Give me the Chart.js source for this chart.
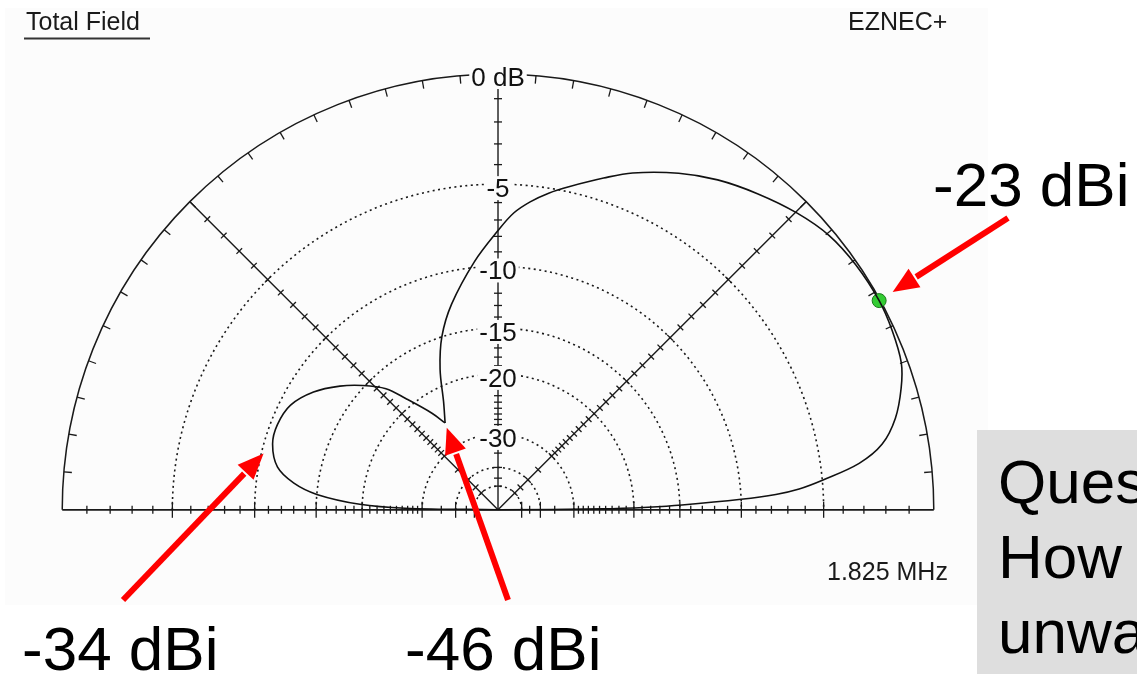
<!DOCTYPE html>
<html>
<head>
<meta charset="utf-8">
<script src="https://cdn.jsdelivr.net/npm/chart.js@4"></script>
<style>
  html, body { margin: 0; padding: 0; background: #fff; overflow: hidden; }
  body { width: 1137px; height: 674px; position: relative; font-family: "Liberation Sans", Arial, sans-serif; }
  #wrap { position: absolute; left: 0; top: 0; width: 1137px; height: 674px; }
  .note { position: absolute; font-size: 62px; line-height: 1; color: #000; white-space: nowrap; }
  #question {
    position: absolute; left: 977px; top: 430px; width: 320px; height: 260px;
    background: #dedede; box-sizing: border-box; padding: 14px 0 0 21px;
    font-size: 62px; line-height: 75px; color: #000; white-space: nowrap;
  }
</style>
</head>
<body>
<div id="wrap"><canvas id="pattern" width="1137" height="674"></canvas></div>
<div class="note" id="n0" style="left:933px; top:154px;"></div>
<div class="note" id="n1" style="left:22px; top:618px;"></div>
<div class="note" id="n2" style="left:405px; top:618px;"></div>
<div id="question">Question:<br>How to reduce<br>unwanted radiation?</div>

<script>
// elevation pattern (deg above horizon) and gain relative to max (dB)
const elevationDeg = [0, 0.5, 1, 1.5, 2.5, 3.2, 4, 5.3, 7.4, 9.8, 13.1, 16.9, 20.2, 24.7, 29,
  34.6, 39.9, 45.1, 50.9, 56.6, 62, 68.4, 72.5, 77.6, 81, 84.1, 87, 90, 95.4, 102.6, 107.8,
  112.2, 116.5, 121.1, 124.1, 129.4, 132.5, 137.1, 141.7, 147.2, 153, 158.7, 163.6, 168.9,
  172.5, 175.1, 177.7, 179, 180];
const gainDb = [-99, -24.4, -18.3, -14.8, -10.0, -7.7, -6.3, -4.96, -3.08, -1.91, -1.13, -0.58, -0.24, -0.08, 0,
  -0.03, -0.16, -0.5, -0.99, -1.51, -2.13, -3.0, -3.7, -4.55, -5.1, -5.7, -6.4, -7.47, -9.43, -12.3, -14.83,
  -17.93, -21.85, -24.85, -22.45, -18.83, -16.58, -14.76, -13.24, -11.77, -10.76, -10.47, -10.6, -11.36,
  -12.87, -15.0, -19.7, -26.5, -99];

const ringDb = [-5, -10, -15, -20, -30, -40, -50];
const ringLabels = ['-5', '-10', '-15', '-20', '-30'];
const topLabel = '0 dB';
const titleText = 'Total Field';
const programText = 'EZNEC+';
const frequencyText = '1.825 MHz';
const noteTexts = ['-23 dBi', '-34 dBi', '-46 dBi'];
const noteAngles = [29, 163.6, 121.1];

// page layout of the plot
const CX = 497, CY = 514, RPX = 442, W = 1137, H = 674;
const FONT = '"Liberation Sans", Arial, sans-serif';

// ARRL log scale used by EZNEC: 0.89 per 2 dB
const arrl = db => db <= -90 ? 0 : Math.pow(0.89, -db / 2);
const rad = d => d * Math.PI / 180;

const points = elevationDeg.map((a, i) => {
  const r = arrl(gainDb[i]);
  return { x: r * Math.cos(rad(a)), y: r * Math.sin(rad(a)) };
});
const nullIdx = elevationDeg.indexOf(121.1);
const maxIdx = gainDb.indexOf(Math.max(...gainDb));

noteTexts.forEach((t, i) => { document.getElementById('n' + i).textContent = t; });

const polarGrid = {
  id: 'polarGrid',
  beforeDraw(chart) {
    const c = chart.ctx;
    c.save();
    c.fillStyle = '#fcfcfc';
    c.fillRect(5, 8, 983, 597);
    c.restore();
  },
  beforeDatasetsDraw(chart) {
    const { ctx: c, scales: { x, y } } = chart;
    const cx = x.getPixelForValue(0), cy = y.getPixelForValue(0);
    const R = x.getPixelForValue(1) - cx;
    const at = (deg, r) => [cx + R * r * Math.cos(rad(deg)), cy - R * r * Math.sin(rad(deg))];
    c.save();
    c.strokeStyle = '#1a1a1a';

    // dotted rings
    c.lineWidth = 1.6;
    c.setLineDash([2, 3.5]);
    ringDb.forEach(d => {
      c.beginPath();
      c.arc(cx, cy, R * arrl(d), Math.PI, 2 * Math.PI);
      c.stroke();
    });
    c.setLineDash([]);

    // outer circle, baseline, vertical and diagonals
    c.lineWidth = 1.5;
    c.beginPath(); c.arc(cx, cy, R, Math.PI, 2 * Math.PI); c.stroke();
    c.lineWidth = 1.7;
    c.beginPath(); c.moveTo(cx - R, cy); c.lineTo(cx + R, cy); c.stroke();
    c.lineWidth = 1.4;
    [45, 90, 135].forEach(a => {
      const [px, py] = at(a, 1);
      c.beginPath(); c.moveTo(cx, cy); c.lineTo(px, py); c.stroke();
    });

    // angle ticks on the outer circle
    c.lineWidth = 1.3;
    for (let a = 5; a < 180; a += 5) {
      if (a === 90) continue;
      const [p1x, p1y] = at(a, 1), [p2x, p2y] = at(a, 1 - 8 / R);
      c.beginPath(); c.moveTo(p1x, p1y); c.lineTo(p2x, p2y); c.stroke();
    }

    // dB ticks along the axes
    const tickDb = [];
    for (let d = -1; d >= -30; d--) tickDb.push(d);
    tickDb.push(-35, -40, -45, -50);
    [0, 45, 90, 135, 180].forEach(a => {
      const nx = -Math.sin(rad(a)), ny = -Math.cos(rad(a));
      tickDb.forEach(d => {
        const major = ringDb.includes(d);
        if (a === 90 && ringLabels.includes(String(d))) return;
        const len = (major && (a === 0 || a === 180)) ? 8 : 4;
        const [px, py] = at(a, arrl(d));
        c.beginPath();
        c.moveTo(px - nx * len, py - ny * len);
        c.lineTo(px + nx * len, py + ny * len);
        c.stroke();
      });
    });

    // labels on the vertical axis
    c.font = '26px ' + FONT;
    c.textAlign = 'center';
    c.textBaseline = 'alphabetic';
    const label = (txt, yc) => {
      const w = c.measureText(txt).width;
      c.fillStyle = '#fcfcfc';
      c.fillRect(cx - w / 2 - 2, yc - 21, w + 4, 24);
      c.fillStyle = '#111';
      c.fillText(txt, cx, yc);
    };
    label(topLabel, cy - R + 12);
    ringLabels.forEach(t => label(t, cy - R * arrl(+t) + 13));

    // header / footer texts
    c.font = '25px ' + FONT;
    c.textAlign = 'left';
    c.fillStyle = '#1a1a1a';
    c.fillText(titleText, 26, 30);
    c.fillText(programText, 848, 30);
    c.fillText(frequencyText, 827, 580);
    c.lineWidth = 2;
    c.strokeStyle = '#333';
    c.beginPath(); c.moveTo(24, 38.5); c.lineTo(150, 38.5); c.stroke();
    c.restore();
  },
  afterDraw(chart) {
    const { ctx: c, scales: { x, y } } = chart;
    const tails = [[1008, 218], [123, 600], [508, 600]];
    const gaps = [16, 13, 5];
    c.save();
    c.strokeStyle = '#ff0000';
    c.fillStyle = '#ff0000';
    c.lineWidth = 6;
    noteAngles.forEach((a, i) => {
      const p = points[elevationDeg.indexOf(a)];
      const px = x.getPixelForValue(p.x), py = y.getPixelForValue(p.y);
      const [tx, ty] = tails[i];
      const dx = tx - px, dy = ty - py, L = Math.hypot(dx, dy);
      const ux = dx / L, uy = dy / L;
      const hx = px + ux * gaps[i], hy = py + uy * gaps[i];
      const head = 26, half = 11;
      const bx = hx + ux * head, by = hy + uy * head;
      c.beginPath(); c.moveTo(tx, ty); c.lineTo(bx + ux * 2, by + uy * 2); c.stroke();
      c.beginPath();
      c.moveTo(hx, hy);
      c.lineTo(bx - uy * half, by + ux * half);
      c.lineTo(bx + uy * half, by - ux * half);
      c.closePath();
      c.fill();
    });
    c.restore();
  }
};

new Chart(document.getElementById('pattern'), {
  type: 'scatter',
  data: {
    datasets: [
      {
        data: points.slice(0, nullIdx + 1),
        showLine: true, borderColor: '#111', borderWidth: 1.6,
        pointRadius: 0, tension: 0.35
      },
      {
        data: points.slice(nullIdx),
        showLine: true, borderColor: '#111', borderWidth: 1.6,
        pointRadius: 0, tension: 0.35
      },
      {
        data: [points[maxIdx]],
        pointRadius: 7, backgroundColor: '#33cc33', borderColor: '#1b7a1b', borderWidth: 1
      }
    ]
  },
  options: {
    responsive: false,
    animation: false,
    layout: { padding: 0 },
    plugins: { legend: { display: false }, tooltip: { enabled: false } },
    scales: {
      x: { type: 'linear', display: false, min: -CX / RPX, max: (W - CX) / RPX },
      y: { type: 'linear', display: false, min: -(H - CY) / RPX, max: CY / RPX }
    }
  },
  plugins: [polarGrid]
});
</script>
</body>
</html>
